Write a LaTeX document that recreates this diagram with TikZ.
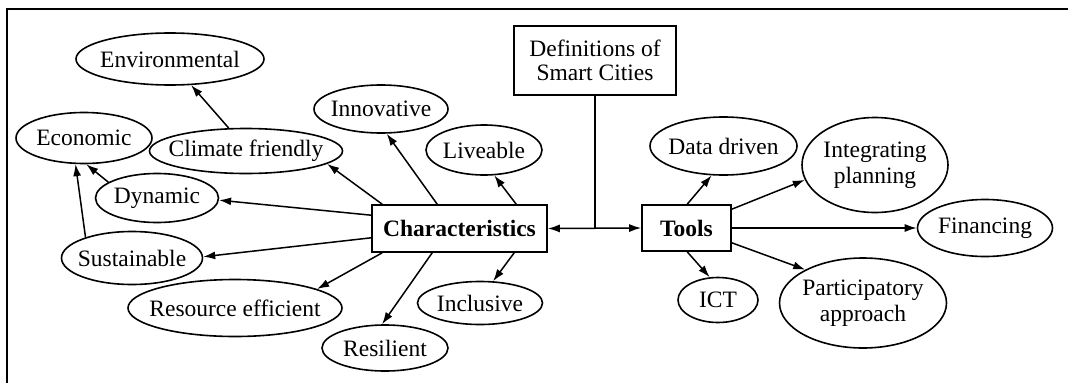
\documentclass[tikz,border=0pt]{standalone}
\usepackage{fontspec}
\setmainfont{Liberation Serif}
\usetikzlibrary{shapes.geometric,arrows.meta}
\newcommand{\mkzw}[1]{\makebox[0pt]{#1}}
\newcommand{\mktwo}[2]{\makebox[0pt]{\begin{tabular}{@{}c@{}}#1\\#2\end{tabular}}}
\begin{document}
\begin{tikzpicture}[x=1pt,y=-1pt,
  every node/.style={font=\fontsize{23.5}{26}\selectfont, text=black},
  oval/.style={ellipse, draw, line width=1.6pt, inner sep=0pt},
  box/.style={rectangle, draw, line width=1.6pt, inner sep=0pt, align=center},
  arr/.style={line width=1.5pt, -{Latex[length=12pt,width=8pt]}},
  link/.style={line width=1.5pt},
]
\useasboundingbox (0,0) rectangle (1068,383);
\draw[line width=1.8pt] (7,383) -- (7,9) -- (1068,9);

% characteristics side
\node[oval, minimum width=188pt, minimum height=52pt] (env) at (170,59) {\mkzw{Environmental}};
\node[oval, minimum width=136pt, minimum height=51pt] (eco) at (84,138) {\mkzw{Economic}};
\node[oval, minimum width=193pt, minimum height=45pt] (clim) at (246,151) {\mkzw{Climate friendly}};
\node[oval, minimum width=134pt, minimum height=48pt] (inno) at (381,109) {\mkzw{Innovative}};
\node[oval, minimum width=116pt, minimum height=50pt] (live) at (484,150) {\mkzw{Liveable}};
\node[oval, minimum width=123pt, minimum height=49pt] (dyn) at (157,198) {\mkzw{Dynamic}};
\node[oval, minimum width=141pt, minimum height=53pt] (sus) at (132,258) {\mkzw{Sustainable}};
\node[oval, minimum width=214pt, minimum height=57pt] (res) at (235,308) {\mkzw{Resource efficient}};
\node[oval, minimum width=126pt, minimum height=46pt] (resil) at (385,348) {\mkzw{Resilient}};
\node[oval, minimum width=125pt, minimum height=43pt] (incl) at (480,303) {\mkzw{Inclusive}};

\node[box, minimum width=162pt, minimum height=69pt, font=\fontsize{23.5}{23.5}\selectfont] (defs) at (595,60.5) {Definitions of\\Smart Cities};
\node[box, minimum width=175pt, minimum height=47pt, font=\fontsize{23.5}{26}\selectfont\bfseries] (char) at (459.5,228.5) {Characteristics};
\node[box, minimum width=89pt, minimum height=46pt, font=\fontsize{23.5}{26}\selectfont\bfseries] (tools) at (686.5,228) {Tools};

% tools side
\node[oval, minimum width=147pt, minimum height=58pt] (data) at (723.5,146) {\mkzw{Data driven}};
\node[oval, minimum width=146pt, minimum height=95pt] (integ) at (875,165) {\mktwo{Integrating}{planning}};
\node[oval, minimum width=135pt, minimum height=57pt] (fin) at (985,228) {\mkzw{Financing}};
\node[oval, minimum width=167pt, minimum height=90pt] (part) at (863,303) {\mktwo{Participatory}{approach}};
\node[oval, minimum width=80pt, minimum height=45pt] (ict) at (718,300) {\mkzw{ICT}};

% connectors
\draw[arr] (clim.127) -- (env.-51);
\draw[arr] (sus.156) -- (eco.-108);
\draw[arr] (dyn.162) -- (eco.-85);

\draw[arr] ([xshift=11pt]char.north west) -- (clim.-9);
\draw[arr] ([xshift=66pt]char.north west) -- (inno.-77);
\draw[arr] ([xshift=145pt]char.north west) -- (live.-68);
\draw[arr] ([yshift=-11pt]char.north west) -- (dyn.-2);
\draw[arr] ([yshift=15pt]char.south west) -- (sus.1);
\draw[arr] ([xshift=11pt]char.south west) -- (res.13);
\draw[arr] ([xshift=61pt]char.south west) -- (resil.97);
\draw[arr] ([xshift=143pt]char.south west) -- (incl.59);

\draw[line width=1.5pt, {Latex[length=12pt,width=8pt]}-{Latex[length=12pt,width=8pt]}] (char.east) -- (tools.west);
\draw[link] (defs.south) -- (defs.south |- char.east);

\draw[arr] ([xshift=46pt]tools.north west) -- (data.-112);
\draw[arr] ([yshift=-5pt]tools.north east) -- (integ.192);
\draw[arr] (tools.east) -- (fin.west);
\draw[arr] ([yshift=9pt]tools.south east) -- (part.150);
\draw[arr] ([xshift=46pt]tools.south west) -- (ict.110);
\end{tikzpicture}
\end{document}
